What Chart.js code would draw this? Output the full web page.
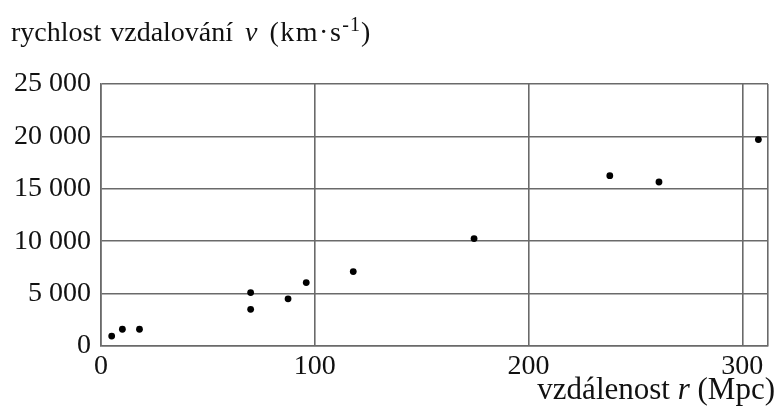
<!DOCTYPE html>
<html>
<head>
<meta charset="utf-8">
<script src="https://cdn.jsdelivr.net/npm/chart.js@4.4.1/dist/chart.umd.min.js"></script>
<style>
  html, body { margin: 0; padding: 0; background: #fff; }
  #wrap { position: relative; width: 777px; height: 411px; }
  .lbl {
    position: absolute;
    font-family: "Liberation Serif", "Times New Roman", serif;
    color: #111;
    white-space: nowrap;
    line-height: 1;
  }
  #yTitle { left: 11px; top: 18px; font-size: 28px; word-spacing: 2px; }
  #yTitle i { margin-left: 3px; }
  #yTitle .unit { margin-left: 12px; letter-spacing: 1.5px; }
  #yTitle sup { font-size: 20px; position: relative; top: -4px; vertical-align: top; letter-spacing: 1px; }
  #xTitle { right: 2px; top: 373px; font-size: 31px; }
</style>
</head>
<body>
<div id="wrap">
  <canvas id="chart" width="777" height="411"></canvas>
  <div class="lbl" id="yTitle">rychlost vzdalování <i>v</i><span class="unit">(km·s<sup>-1</sup>)</span></div>
  <div class="lbl" id="xTitle">vzdálenost <i>r</i> (Mpc)</div>
</div>
<script>
// ---------- Data ----------
const distances  = [5, 10, 18, 70, 70, 87.5, 96, 118, 174.5, 238, 261, 307.5];   // Mpc
const velocities = [950, 1600, 1600, 5100, 3500, 4500, 6050, 7100, 10250, 16250, 15650, 19700]; // km/s

const xTicks = [0, 100, 200, 300];
const yTicks = [0, 5000, 10000, 15000, 20000, 25000];
const X_MAX = 312;

const GRID = "#6a6a6a";
const FONT = { family: "'Liberation Serif', 'Times New Roman', serif", size: 28 };

// thousands separated by a space: 25 000
function fmt(v) {
  return String(v).replace(/\B(?=(\d{3})+(?!\d))/g, " ");
}

const points = distances.map((r, i) => ({ x: r, y: velocities[i] }));

new Chart(document.getElementById("chart"), {
  type: "scatter",
  data: {
    datasets: [{
      data: points,
      pointRadius: 3.4,
      pointBackgroundColor: "#000",
      pointBorderWidth: 0,
      pointHoverRadius: 3.4,
    }],
  },
  options: {
    responsive: false,
    animation: false,
    layout: { padding: { top: 84, right: 9, bottom: 0, left: 0 } },
    plugins: { legend: { display: false }, tooltip: { enabled: false } },
    scales: {
      x: {
        type: "linear",
        min: 0,
        max: X_MAX,
        // the extra tick at X_MAX only draws the right frame line
        afterBuildTicks: s => { s.ticks = [...xTicks, X_MAX].map(v => ({ value: v })); },
        afterFit: s => { s.height = 65; },
        ticks: {
          color: "#111",
          font: FONT,
          padding: 4,
          maxRotation: 0,
          autoSkip: false,
          callback: v => (xTicks.includes(v) ? String(v) : ""),
        },
        grid: { color: GRID, lineWidth: 1.6, drawTicks: false },
        border: { color: GRID, width: 1.6 },
      },
      y: {
        min: 0,
        max: 25000,
        afterBuildTicks: s => { s.ticks = yTicks.map(v => ({ value: v })); },
        afterFit: s => { s.width = 101; },
        ticks: {
          color: "#111",
          font: FONT,
          padding: 10,
          autoSkip: false,
          callback: v => fmt(v),
        },
        grid: { color: GRID, lineWidth: 1.6, drawTicks: false },
        border: { color: GRID, width: 1.6 },
      },
    },
  },
});
</script>
</body>
</html>
